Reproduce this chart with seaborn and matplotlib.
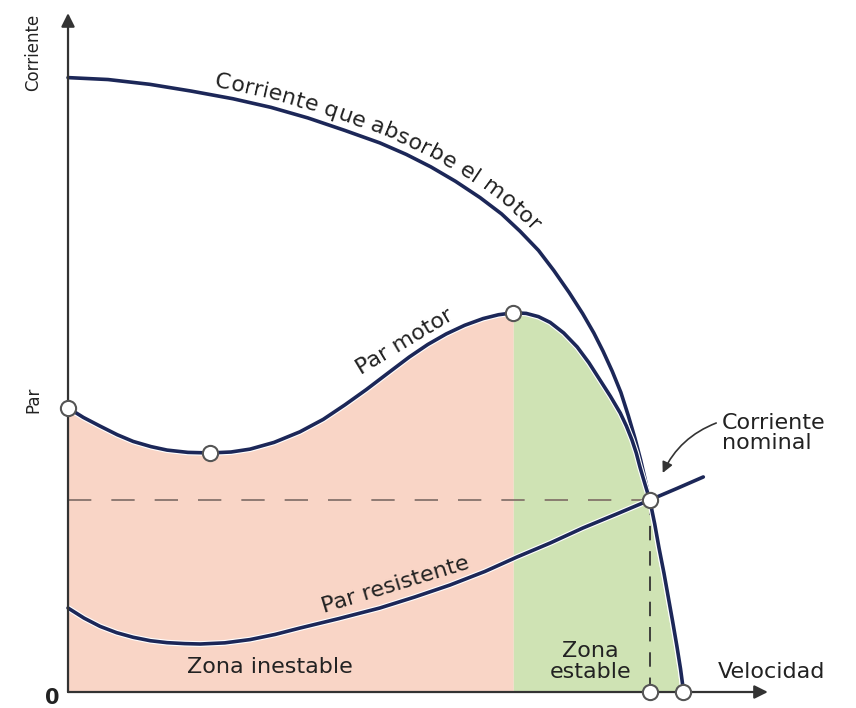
import numpy as np
import matplotlib
matplotlib.use("Agg")
import matplotlib.pyplot as plt
import matplotlib.patheffects as pe
from matplotlib.font_manager import FontProperties
import seaborn as sns

# speed in % of synchronous speed, values in % of nominal
speed_corr = [0, 6.5, 13.3, 20, 26.8, 33, 39, 45, 50.7, 55, 59, 63, 67, 70.5,
              73.5, 76.5, 79, 81.5, 83.7, 85.5, 87, 88.5, 89.9, 91.1, 92.2, 93.1,
              93.9, 94.6, 95.4, 96.1, 96.9, 97.6, 98.3, 99.0, 99.6, 100.1]
corriente = [320, 319, 316.5, 313, 309, 304.5, 299, 292.5, 286, 280, 273.5, 266,
             257.5, 249, 240, 230, 219.5, 208, 197, 187, 177.5, 167, 156, 144,
             132, 121, 110, 100, 87.5, 75, 62, 49.5, 37, 24, 12, 0]

speed_par = [0, 2.5, 5.2, 8, 10.6, 13.5, 16.1, 19.5, 23.1, 26.5, 29.6, 33.5,
             37.7, 41.5, 45, 48.5, 52.4, 55.5, 58.5, 61.5, 64.5, 67.5, 70, 72.4,
             74.5, 76.5, 78.4, 80.6, 82.8, 84.7, 86.5, 88.2, 89.8, 90.8, 91.7,
             92.4, 93.0, 93.8, 94.6, 95.4, 96.1, 96.9, 97.6, 98.3, 99.0, 99.6, 100.1]
par_motor = [148, 143, 138.5, 134, 130.5, 127.8, 126, 124.8, 124.5, 125, 126.5, 130,
             135.5, 142, 149.5, 157.5, 167, 174.5, 181, 186.5, 191, 194.5, 196.5, 197.5,
             197.2, 195.5, 192.5, 187, 179.7, 171.5, 162.5, 154, 145.3, 138.5, 131.3,
             124.5, 117.2, 108.5, 100, 87.5, 75, 62, 49.5, 37, 24, 12, 0]

speed_res = [0, 2.6, 5.2, 7.9, 10.6, 13.4, 16.1, 19, 21.5, 25.5, 29.6, 33.7, 37.7,
             44, 50.7, 56.4, 62.1, 67.8, 73.0, 78.4, 83.7, 89.2, 94.6, 99, 103.3]
par_res = [43.75, 38.5, 34.2, 30.9, 28.5, 26.7, 25.7, 25.2, 25.0, 25.6, 27.3, 30, 33.3,
           38.2, 43.75, 49.5, 55.7, 62.8, 70.3, 77.6, 85.4, 92.7, 100, 106, 112]

key_x = [0, 23.1, 72.4, 94.6, 94.6, 100]
key_y = [148, 124.5, 197.5, 100, 0, 0]

nominal_speed = 94.6
nominal_level = 100
peak_speed = 72.4

navy = "#1c2758"
txt = "#222222"

sns.set_style("white")
plt.rcParams["font.family"] = ["DejaVu Sans"]

fig = plt.figure(figsize=(8.56, 7.08), dpi=100)
ax = fig.add_axes([0, 0, 1, 1])
ax.set_xlim(-11.06, 128.13)
ax.set_ylim(-8.33, 360.42)
ax.set_axis_off()

# zones under the motor torque curve
sp = np.array(speed_par)
pm = np.array(par_motor)
ax.fill_between(sp, 0, pm, where=sp <= peak_speed, color="#f9d5c6", lw=0, zorder=1)
ax.fill_between(sp, 0, pm, where=sp >= peak_speed, color="#cfe3b4", lw=0, zorder=1)

# nominal point guides
ax.plot([0, nominal_speed], [nominal_level, nominal_level], color="#7d6b64",
        lw=1.2, ls=(0, (14, 12)), zorder=2)
ax.plot([nominal_speed, nominal_speed], [0, nominal_level], color="#333333",
        lw=1.3, ls=(0, (8, 6)), zorder=2)

halo = [pe.withStroke(linewidth=4.2, foreground="white")]
for xs, ys in [(speed_corr, corriente), (speed_par, par_motor), (speed_res, par_res)]:
    sns.lineplot(x=xs, y=ys, ax=ax, color=navy, lw=2.6, estimator=None,
                 sort=False, zorder=3, path_effects=halo,
                 solid_joinstyle="round", solid_capstyle="round")

# axes with arrows
arrow = dict(arrowstyle="-|>", color="#333333", lw=1.6, mutation_scale=20,
             shrinkA=0, shrinkB=0)
ax.annotate("", xy=(113.8, 0), xytext=(0, 0), arrowprops=arrow, zorder=4)
ax.annotate("", xy=(0, 353.6), xytext=(0, 0), arrowprops=arrow, zorder=4)

sns.scatterplot(x=key_x, y=key_y, ax=ax, s=120, color="white",
                edgecolor="#555555", linewidth=1.5, zorder=6, clip_on=False)

# labels
ax.text(-5.7, 333, "Corriente", rotation=90, ha="center", va="center",
        fontsize=12, color=txt)
ax.text(-5.7, 152, "Par", rotation=90, ha="center", va="center",
        fontsize=12, color=txt)
ax.text(-2.6, -3.1, "0", ha="center", va="center", fontsize=15,
        fontweight="bold", color=txt)
ax.text(105.7, 10.4, "Velocidad", ha="left", va="center", fontsize=16, color=txt)
ax.text(32.8, 13, "Zona inestable", ha="center", va="center", fontsize=16, color=txt)
ax.text(85.0, 16, "Zona\nestable", ha="center", va="center", fontsize=16,
        color=txt, linespacing=1.05)
ax.text(106.3, 134.9, "Corriente\nnominal", ha="left", va="center",
        fontsize=16, color=txt, linespacing=1.0)
ax.text(54.8, 182.3, "Par motor", rotation=31, ha="center", va="center",
        rotation_mode="anchor", fontsize=16, color=txt)
ax.text(53.2, 55.7, "Par resistente", rotation=17, ha="center", va="center",
        rotation_mode="anchor", fontsize=16, color=txt)

ax.annotate("", xy=(96.7, 114.1), xytext=(105.4, 140.1),
            arrowprops=dict(arrowstyle="-|>", color="#333333", lw=1.2,
                            mutation_scale=16, shrinkA=0, shrinkB=0,
                            connectionstyle="arc3,rad=0.2"))

# curved label along the current curve
fig.canvas.draw()
renderer = fig.canvas.get_renderer()
fp = FontProperties(family="DejaVu Sans", size=16)


def tw(s):
    return renderer.get_text_width_height_descent(s, fp, ismath=False)[0]


pts = ax.transData.transform(np.column_stack([speed_corr, corriente]))
arc = np.concatenate([[0], np.cumsum(np.hypot(np.diff(pts[:, 0]), np.diff(pts[:, 1])))])
start = np.interp(23.5, speed_corr, arc)
label = "Corriente que absorbe el motor"
bar = tw("|")
inv = ax.transData.inverted()
for i, ch in enumerate(label):
    left = tw(label[:i] + "|") - bar
    cw = tw(ch + "|") - bar
    s = start + left + cw / 2
    px = np.interp(s, arc, pts[:, 0])
    py = np.interp(s, arc, pts[:, 1])
    tx = np.interp(s + 10, arc, pts[:, 0]) - np.interp(s - 10, arc, pts[:, 0])
    ty = np.interp(s + 10, arc, pts[:, 1]) - np.interp(s - 10, arc, pts[:, 1])
    n = np.hypot(tx, ty)
    tx, ty = tx / n, ty / n
    ox, oy = px - ty * 14, py + tx * 14
    dx, dy = inv.transform((ox, oy))
    ax.text(dx, dy, ch, rotation=np.degrees(np.arctan2(ty, tx)), ha="center",
            va="center", rotation_mode="anchor", fontproperties=fp, color=txt)

fig.savefig("out.png", dpi=100)
